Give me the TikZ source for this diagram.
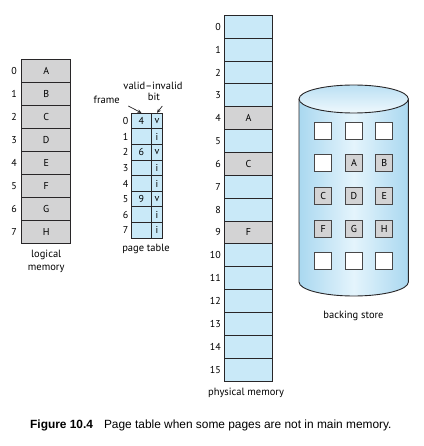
\documentclass[tikz,border=0pt]{standalone}
\usepackage{fontspec}
\setmainfont{PT Sans}
\newfontfamily\capfont{Liberation Sans}
\usetikzlibrary{arrows.meta,positioning}
\definecolor{cellblue}{RGB}{201,233,248}
\definecolor{cellgray}{RGB}{211,211,212}
\definecolor{edge}{RGB}{40,38,40}
\definecolor{cylblue}{RGB}{170,216,240}
\definecolor{cyllight}{RGB}{228,244,252}
\tikzset{
  cell/.style={draw=edge, line width=0.9pt, inner sep=0pt, font=\fontsize{10}{11}\selectfont},
  lmcell/.style={cell, fill=cellgray, minimum width=49pt, minimum height=23pt},
  ptf/.style={cell, fill=cellblue, minimum width=20.7pt, minimum height=15.6pt},
  ptv/.style={cell, fill=cellblue, minimum width=10.6pt, minimum height=15.6pt},
  pmcell/.style={cell, fill=cellblue, minimum width=48.4pt, minimum height=22.86pt},
  pmused/.style={pmcell, fill=cellgray},
  idx/.style={font=\fontsize{10}{11}\selectfont, inner sep=0pt},
  lbl/.style={font=\fontsize{10.5}{13}\selectfont, inner sep=0pt, align=center},
  sq/.style={draw=edge!85, line width=1pt, fill=white, minimum size=17pt, inner sep=0pt, font=\fontsize{10}{11}\selectfont},
  sqg/.style={sq, fill=cellgray},
  pointer/.style={-{Stealth[length=4pt,width=3.5pt]}, line width=0.7pt, draw=edge}
}
\begin{document}
\begin{tikzpicture}[x=1pt,y=-1pt]
\useasboundingbox (0,0) rectangle (423,446);
% logical memory
\foreach \l [count=\i from 0] in {A,B,C,D,E,F,G,H} {
  \node[lmcell] (lm\i) at (46.2, 59.3+23*\i+11.5) {\l};
  \node[idx] (lmi\i) at (14, 59.3+23*\i+11.5) {\i};
}
\node[lbl] (lmlabel) at (46.2, 261) {logical\\memory};
% page table
\foreach \f/\v [count=\i from 0] in {4/v,/i,6/v,/i,/i,9/v,/i,/i} {
  \node[ptf] (pf\i) at (141.4, 113.3+15.6*\i+7.8) {\f};
  \node[ptv] (pv\i) at (157.0, 113.3+15.6*\i+7.8) {\v};
  \node[idx, anchor=east] (pti\i) at (128.5, 113.3+15.6*\i+7.8) {\i};
}
\node[lbl] (ptlabel) at (146, 249) {page table};
\node[lbl] (framelbl) at (106.7, 100) {frame};
\node[lbl] (vilbl) at (153, 85.5) {valid--invalid};
\node[lbl] (bitlbl) at (154, 96.5) {bit};
\coordinate (fs) at (128.3,106);
\coordinate (bs) at (162.3,106);
\draw[pointer] (fs) -- (pf0.north);
\draw[pointer] (bs) -- (pv0.north);
% physical memory
\foreach \i in {0,...,15} {
  \node[pmcell] (pm\i) at (248.5, 15.3+22.86*\i+11.43) {};
  \node[idx, anchor=east] (pmi\i) at (221, 15.3+22.86*\i+11.43) {\i};
}
\node[pmused] at (pm4) {A};
\node[pmused] at (pm6) {C};
\node[pmused] at (pm9) {F};
\node[lbl] (pmlabel) at (246, 393) {physical memory};
% backing store cylinder
\shade[left color=cylblue, right color=cylblue, middle color=cyllight]
  (299,99) -- (299,282) arc[start angle=180, end angle=0, x radius=54.7, y radius=14] -- (408.4,99) -- cycle;
\draw[edge, line width=0.9pt] (299,99) -- (299,282) arc[start angle=180, end angle=0, x radius=54.7, y radius=14] -- (408.4,99);
\shade[top color=cylblue!80, bottom color=cyllight!60!white] (353.7,99) ellipse[x radius=54.7, y radius=14];
\draw[edge, line width=0.9pt] (353.7,99) ellipse[x radius=54.7, y radius=14];
\node[sq]  (b11) at (323.3,130.7) {};
\node[sq]  (b12) at (354,130.7) {};
\node[sq]  (b13) at (384.3,130.7) {};
\node[sq]  (b21) at (323.3,163.4) {};
\node[sqg] (b22) at (354,163.4) {A};
\node[sqg] (b23) at (384.3,163.4) {B};
\node[sqg] (b31) at (323.3,196) {C};
\node[sqg] (b32) at (354,196) {D};
\node[sqg] (b33) at (384.3,196) {E};
\node[sqg] (b41) at (323.3,228.7) {F};
\node[sqg] (b42) at (354,228.7) {G};
\node[sqg] (b43) at (384.3,228.7) {H};
\node[sq]  (b51) at (323.3,261.4) {};
\node[sq]  (b52) at (354,261.4) {};
\node[sq]  (b53) at (384.3,261.4) {};
\node[lbl] (bslabel) at (353.5, 316) {backing store};
% caption
\node[anchor=west, inner sep=0pt, font=\capfont\fontsize{11.9}{14}\selectfont] (caption) at (30,425.7)
  {\textbf{Figure 10.4}\hspace{11pt}Page table when some pages are not in main memory.};
\end{tikzpicture}
\end{document}
